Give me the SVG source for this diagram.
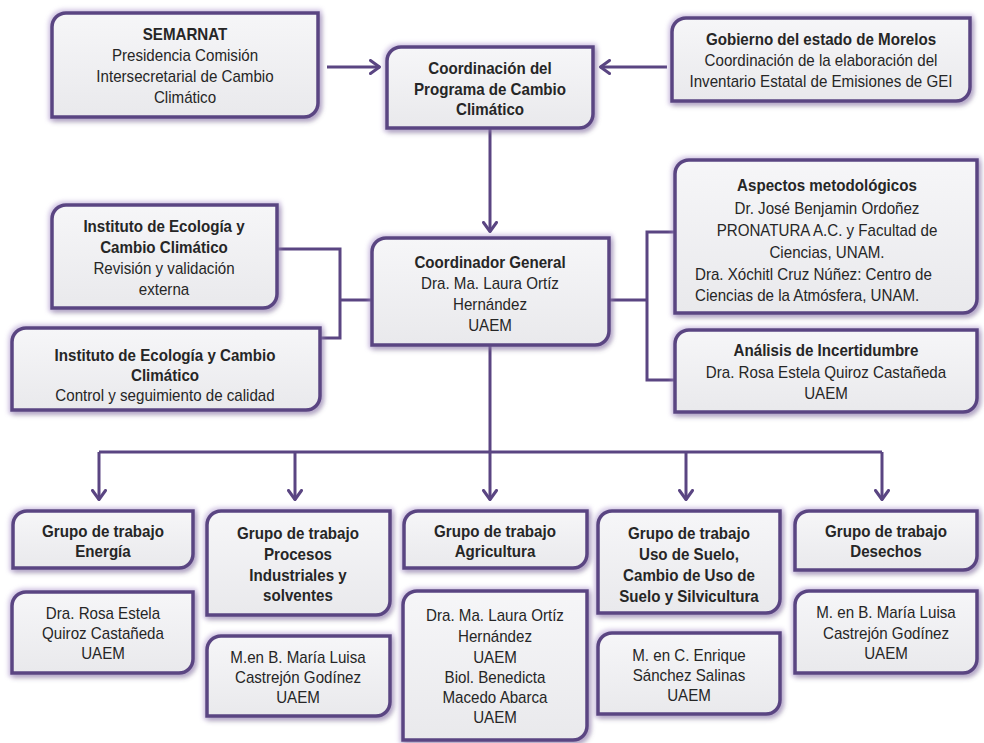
<svg xmlns="http://www.w3.org/2000/svg" width="984" height="743" viewBox="0 0 984 743">
<defs>
<linearGradient id="fillg" x1="0" y1="0" x2="0" y2="1">
<stop offset="0" stop-color="#f6f6f8"/>
<stop offset="1" stop-color="#e9e9ec"/>
</linearGradient>
<filter id="sh" x="-10%" y="-15%" width="125%" height="140%">
<feGaussianBlur in="SourceAlpha" stdDeviation="2.5" result="b"/>
<feOffset in="b" dx="2" dy="3" result="o"/>
<feFlood flood-color="#000" flood-opacity="0.4"/>
<feComposite in2="o" operator="in" result="s"/>
<feMorphology in="SourceAlpha" operator="dilate" radius="1.5" result="d"/>
<feGaussianBlur in="d" stdDeviation="2" result="g"/>
<feFlood flood-color="#a890cc" flood-opacity="0.5"/>
<feComposite in2="g" operator="in" result="gl"/>
<feMerge><feMergeNode in="s"/><feMergeNode in="gl"/><feMergeNode in="SourceGraphic"/></feMerge>
</filter>
<marker id="ah" viewBox="0 0 12 16" refX="11" refY="8" markerWidth="12" markerHeight="16" orient="auto" markerUnits="userSpaceOnUse">
<path d="M1.5,1.5 L10.5,8 L1.5,14.5" fill="none" stroke="#5a4582" stroke-width="3" stroke-linecap="round" stroke-linejoin="round"/>
</marker>
</defs>
<style>
.box{fill:url(#fillg);stroke:#5a4582;stroke-width:3.5;filter:url(#sh)}
.t{font-family:"Liberation Sans",Arial,sans-serif;font-size:17px;fill:#262626;text-anchor:middle}
.b{font-weight:bold}
.ts{font-family:"Liberation Sans",Arial,sans-serif;font-size:17px;fill:#262626;text-anchor:start}
.c{fill:none;stroke:#5a4582;stroke-width:3}
</style>
<rect width="984" height="743" fill="#ffffff"/>

<g id="connectors">
<path class="c" d="M327,67 H380" marker-end="url(#ah)"/>
<path class="c" d="M667,67 H600" marker-end="url(#ah)"/>
<path class="c" d="M490,128 V232" marker-end="url(#ah)"/>
<path class="c" d="M277,249 H340 V338 H320"/>
<path class="c" d="M340,300 H372"/>
<path class="c" d="M609,300 H647"/>
<path class="c" d="M675,232 H647 V380 H675"/>
<path class="c" d="M490,345 V452"/>
<path class="c" d="M99,452 H882"/>
<path class="c" d="M99,452 V500" marker-end="url(#ah)"/>
<path class="c" d="M295,452 V500" marker-end="url(#ah)"/>
<path class="c" d="M490,452 V500" marker-end="url(#ah)"/>
<path class="c" d="M686,452 V500" marker-end="url(#ah)"/>
<path class="c" d="M882,452 V500" marker-end="url(#ah)"/>
</g>

<g id="semarnat">
<path class="box" d="M66,13 H318 V103 A14,14 0 0 1 304,117 H52 V27 A14,14 0 0 1 66,13 Z"/>
<g transform="translate(185 0) scale(0.89 1)">
<text class="t"><tspan class="b" x="0" y="40">SEMARNAT</tspan><tspan x="0" y="61">Presidencia Comisión</tspan><tspan x="0" y="82">Intersecretarial de Cambio</tspan><tspan x="0" y="103">Climático</tspan></text>
</g>
</g>

<g id="coordinacion">
<path class="box" d="M401,47 H593 V114 A14,14 0 0 1 579,128 H387 V61 A14,14 0 0 1 401,47 Z"/>
<g transform="translate(490 0) scale(0.89 1)">
<text class="t b"><tspan x="0" y="74">Coordinación del</tspan><tspan x="0" y="95">Programa de Cambio</tspan><tspan x="0" y="115">Climático</tspan></text>
</g>
</g>

<g id="gobierno">
<path class="box" d="M686,18 H970 V87 A14,14 0 0 1 956,101 H672 V32 A14,14 0 0 1 686,18 Z"/>
<g transform="translate(821 0) scale(0.89 1)">
<text class="t"><tspan class="b" x="0" y="45">Gobierno del estado de Morelos</tspan><tspan x="0" y="66">Coordinación de la elaboración del</tspan><tspan x="0" y="87">Inventario Estatal de Emisiones de GEI</tspan></text>
</g>
</g>

<g id="instituto1">
<path class="box" d="M66,205 H277 V294 A14,14 0 0 1 263,308 H52 V219 A14,14 0 0 1 66,205 Z"/>
<g transform="translate(164 0) scale(0.89 1)">
<text class="t"><tspan class="b" x="0" y="232">Instituto de Ecología y</tspan><tspan class="b" x="0" y="253">Cambio Climático</tspan><tspan x="0" y="274">Revisión y validación</tspan><tspan x="0" y="295">externa</tspan></text>
</g>
</g>

<g id="instituto2">
<path class="box" d="M26,328 H320 V396 A14,14 0 0 1 306,410 H12 V342 A14,14 0 0 1 26,328 Z"/>
<g transform="translate(165 0) scale(0.89 1)">
<text class="t"><tspan class="b" x="0" y="361">Instituto de Ecología  y Cambio</tspan><tspan class="b" x="0" y="381">Climático</tspan><tspan x="0" y="401">Control y seguimiento de calidad</tspan></text>
</g>
</g>

<g id="coordinador">
<path class="box" d="M386,238 H609 V331 A14,14 0 0 1 595,345 H372 V252 A14,14 0 0 1 386,238 Z"/>
<g transform="translate(490 0) scale(0.89 1)">
<text class="t"><tspan class="b" x="0" y="268">Coordinador General</tspan><tspan x="0" y="289">Dra. Ma. Laura Ortíz</tspan><tspan x="0" y="310">Hernández</tspan><tspan x="0" y="331">UAEM</tspan></text>
</g>
</g>

<g id="aspectos">
<path class="box" d="M689,160 H977 V299 A14,14 0 0 1 963,313 H675 V174 A14,14 0 0 1 689,160 Z"/>
<g transform="translate(827 0) scale(0.89 1)">
<text class="t"><tspan class="b" x="0" y="191">Aspectos metodológicos</tspan><tspan x="0" y="214">Dr. José Benjamin  Ordoñez</tspan><tspan x="0" y="236">PRONATURA A.C. y Facultad de</tspan><tspan x="0" y="258">Ciencias, UNAM.</tspan></text>
</g>
<g transform="translate(695 0) scale(0.89 1)">
<text class="ts"><tspan x="0" y="280">Dra. Xóchitl Cruz Núñez: Centro de</tspan><tspan x="0" y="301">Ciencias de la Atmósfera, UNAM.</tspan></text>
</g>
</g>

<g id="analisis">
<path class="box" d="M689,330 H977 V398 A14,14 0 0 1 963,412 H675 V344 A14,14 0 0 1 689,330 Z"/>
<g transform="translate(826 0) scale(0.89 1)">
<text class="t"><tspan class="b" x="0" y="356">Análisis de Incertidumbre</tspan><tspan x="0" y="378">Dra. Rosa Estela Quiroz Castañeda</tspan><tspan x="0" y="399">UAEM</tspan></text>
</g>
</g>

<g id="energia">
<path class="box" d="M27,511 H193 V554 A14,14 0 0 1 179,568 H13 V525 A14,14 0 0 1 27,511 Z"/>
<g transform="translate(103 0) scale(0.89 1)">
<text class="t b"><tspan x="0" y="537">Grupo de trabajo</tspan><tspan x="0" y="557">Energía</tspan></text>
</g>
</g>
<g id="energia-resp">
<path class="box" d="M26,592 H193 V659 A14,14 0 0 1 179,673 H12 V606 A14,14 0 0 1 26,592 Z"/>
<g transform="translate(103 0) scale(0.89 1)">
<text class="t"><tspan x="0" y="619">Dra. Rosa Estela</tspan><tspan x="0" y="639">Quiroz Castañeda</tspan><tspan x="0" y="659">UAEM</tspan></text>
</g>
</g>

<g id="procesos">
<path class="box" d="M221,511 H390 V601 A14,14 0 0 1 376,615 H207 V525 A14,14 0 0 1 221,511 Z"/>
<g transform="translate(298 0) scale(0.89 1)">
<text class="t b"><tspan x="0" y="539">Grupo de trabajo</tspan><tspan x="0" y="560">Procesos</tspan><tspan x="0" y="581">Industriales y</tspan><tspan x="0" y="601">solventes</tspan></text>
</g>
</g>
<g id="procesos-resp">
<path class="box" d="M221,636 H390 V702 A14,14 0 0 1 376,716 H207 V650 A14,14 0 0 1 221,636 Z"/>
<g transform="translate(298 0) scale(0.89 1)">
<text class="t"><tspan x="0" y="663">M.en B. María Luisa</tspan><tspan x="0" y="683">Castrejón Godínez</tspan><tspan x="0" y="703">UAEM</tspan></text>
</g>
</g>

<g id="agricultura">
<path class="box" d="M418,511 H587 V554 A14,14 0 0 1 573,568 H404 V525 A14,14 0 0 1 418,511 Z"/>
<g transform="translate(495 0) scale(0.89 1)">
<text class="t b"><tspan x="0" y="537">Grupo de trabajo</tspan><tspan x="0" y="557">Agricultura</tspan></text>
</g>
</g>
<g id="agricultura-resp">
<path class="box" d="M417,591 H587 V726 A14,14 0 0 1 573,740 H403 V605 A14,14 0 0 1 417,591 Z"/>
<g transform="translate(495 0) scale(0.89 1)">
<text class="t"><tspan x="0" y="621">Dra. Ma. Laura Ortíz</tspan><tspan x="0" y="642">Hernández</tspan><tspan x="0" y="663">UAEM</tspan><tspan x="0" y="683">Biol. Benedicta</tspan><tspan x="0" y="703">Macedo Abarca</tspan><tspan x="0" y="723">UAEM</tspan></text>
</g>
</g>

<g id="uso-suelo">
<path class="box" d="M612,511 H780 V599 A14,14 0 0 1 766,613 H598 V525 A14,14 0 0 1 612,511 Z"/>
<g transform="translate(689 0) scale(0.89 1)">
<text class="t b"><tspan x="0" y="539">Grupo de trabajo</tspan><tspan x="0" y="560">Uso de Suelo,</tspan><tspan x="0" y="581">Cambio de Uso de</tspan><tspan x="0" y="602">Suelo y Silvicultura</tspan></text>
</g>
</g>
<g id="uso-suelo-resp">
<path class="box" d="M612,633 H780 V700 A14,14 0 0 1 766,714 H598 V647 A14,14 0 0 1 612,633 Z"/>
<g transform="translate(689 0) scale(0.89 1)">
<text class="t"><tspan x="0" y="661">M. en C. Enrique</tspan><tspan x="0" y="681">Sánchez Salinas</tspan><tspan x="0" y="701">UAEM</tspan></text>
</g>
</g>

<g id="desechos">
<path class="box" d="M809,511 H977 V556 A14,14 0 0 1 963,570 H795 V525 A14,14 0 0 1 809,511 Z"/>
<g transform="translate(886 0) scale(0.89 1)">
<text class="t b"><tspan x="0" y="537">Grupo de trabajo</tspan><tspan x="0" y="557">Desechos</tspan></text>
</g>
</g>
<g id="desechos-resp">
<path class="box" d="M809,591 H977 V659 A14,14 0 0 1 963,673 H795 V605 A14,14 0 0 1 809,591 Z"/>
<g transform="translate(886 0) scale(0.89 1)">
<text class="t"><tspan x="0" y="618">M. en B. María Luisa</tspan><tspan x="0" y="639">Castrejón Godínez</tspan><tspan x="0" y="659">UAEM</tspan></text>
</g>
</g>
</svg>
